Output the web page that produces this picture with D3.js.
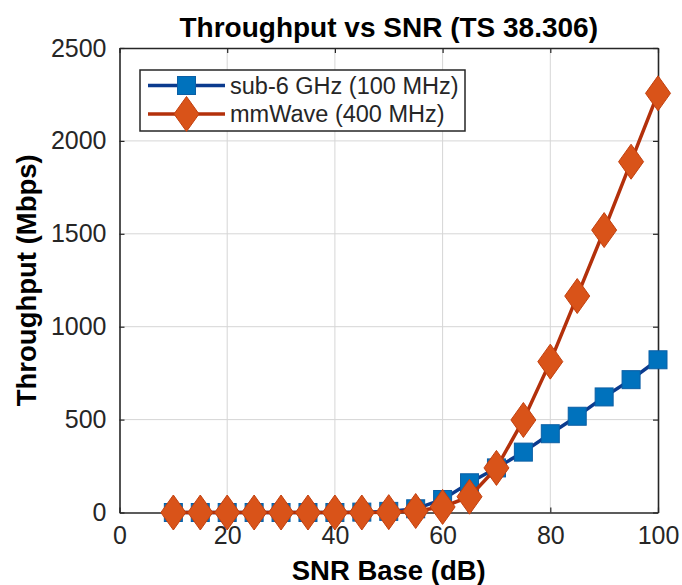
<!DOCTYPE html>
<html>
<head>
<meta charset="utf-8">
<script src="https://cdn.jsdelivr.net/npm/d3@7"></script>
<style>
  body { margin: 0; background: #fff; }
  text { font-family: "Liberation Sans", Arial, sans-serif; fill: #262626; }
</style>
</head>
<body>
<div id="chart"></div>
<script>
// data
var snr = [10, 15, 20, 25, 30, 35, 40, 45, 50, 55, 60, 65, 70, 75, 80, 85, 90, 95, 100];
var sub6 = [0, 0, 0, 0, 0, 0, 0, 2, 6, 20, 70, 160, 240, 325, 424, 518, 622, 715, 822];
var mmwave = [0, 0, 0, 0, 0, 0, 0, 0, 2, 8, 30, 85, 240, 498, 812, 1165, 1520, 1888, 2256];
var xTicks = [0, 20, 40, 60, 80, 100];
var yTicks = [0, 500, 1000, 1500, 2000, 2500];
var seriesNames = ["sub-6 GHz (100 MHz)", "mmWave (400 MHz)"];

var W = 682, H = 585;
var margin = {top: 48, right: 24, bottom: 72.5, left: 119.5};
var width = W - margin.left - margin.right,
    height = H - margin.top - margin.bottom;

var svg = d3.select("#chart").append("svg")
    .attr("width", W).attr("height", H)
    .style("background", "#fff");

var g = svg.append("g")
    .attr("transform", "translate(" + margin.left + "," + margin.top + ")");

var x = d3.scaleLinear().domain([0, 100]).range([0, width]);
var y = d3.scaleLinear().domain([0, 2500]).range([height, 0]);

// grid
g.append("g").selectAll("line").data(xTicks.slice(1, -1)).enter().append("line")
    .attr("x1", d => x(d)).attr("x2", d => x(d))
    .attr("y1", 0).attr("y2", height)
    .style("stroke", "#d6d6d6").style("stroke-width", 1);
g.append("g").selectAll("line").data(yTicks.slice(1, -1)).enter().append("line")
    .attr("x1", 0).attr("x2", width)
    .attr("y1", d => y(d)).attr("y2", d => y(d))
    .style("stroke", "#d6d6d6").style("stroke-width", 1);

// axes (box with inward ticks)
var xAxis = g.append("g")
    .attr("transform", "translate(0," + height + ")")
    .call(d3.axisBottom(x).tickValues(xTicks).tickFormat(d3.format("d"))
        .tickSizeInner(-5).tickSizeOuter(0).tickPadding(14));
var yAxis = g.append("g")
    .call(d3.axisLeft(y).tickValues(yTicks).tickFormat(d3.format("d"))
        .tickSizeInner(-5).tickSizeOuter(0).tickPadding(13));
g.append("g")
    .call(d3.axisTop(x).tickValues(xTicks).tickSizeInner(-5).tickSizeOuter(0).tickFormat(""));
g.append("g")
    .attr("transform", "translate(" + width + ",0)")
    .call(d3.axisRight(y).tickValues(yTicks).tickSizeInner(-5).tickSizeOuter(0).tickFormat(""));

g.selectAll(".domain").style("stroke", "#262626").style("stroke-width", 1.6);
g.selectAll(".tick line").style("stroke", "#262626").style("stroke-width", 1.2);
g.selectAll(".tick text").style("font-size", "25px").style("fill", "#262626");

// series
var line = d3.line()
    .x(d => x(d[0]))
    .y(d => y(d[1]));

var blueLine = "#0b3b8e", blueFill = "#0072bd", blueEdge = "#0b5fa5";
var redLine = "#b3300b", redFill = "#d95319", redEdge = "#c2400f";

var sq = 18, dw = 25, dh = 35;
var diamond = "M0," + (-dh / 2) + "L" + (dw / 2) + ",0L0," + (dh / 2) + "L" + (-dw / 2) + ",0Z";

var blueData = snr.map((s, i) => [s, sub6[i]]);
var redData = snr.map((s, i) => [s, mmwave[i]]);

g.append("path").datum(blueData)
    .attr("d", line)
    .style("fill", "none").style("stroke", blueLine).style("stroke-width", 3.5);
g.selectAll(".sq").data(blueData).enter().append("rect")
    .attr("class", "sq")
    .attr("x", d => x(d[0]) - sq / 2)
    .attr("y", d => y(d[1]) - sq / 2)
    .attr("width", sq).attr("height", sq)
    .style("fill", blueFill).style("stroke", blueEdge).style("stroke-width", 1);

g.append("path").datum(redData)
    .attr("d", line)
    .style("fill", "none").style("stroke", redLine).style("stroke-width", 3.5);
g.selectAll(".dm").data(redData).enter().append("path")
    .attr("class", "dm")
    .attr("transform", d => "translate(" + x(d[0]) + "," + y(d[1]) + ")")
    .attr("d", diamond)
    .style("fill", redFill).style("stroke", redEdge).style("stroke-width", 1);

// legend
var lg = svg.append("g").attr("transform", "translate(140,70)");
lg.append("rect")
    .attr("width", 325).attr("height", 61)
    .style("fill", "#fff").style("stroke", "#262626").style("stroke-width", 1.5);

var rows = [
    {name: seriesNames[0], y: 15.5, stroke: blueLine},
    {name: seriesNames[1], y: 44, stroke: redLine}
];
rows.forEach(function (r, i) {
    lg.append("line")
        .attr("x1", 8).attr("x2", 85)
        .attr("y1", r.y).attr("y2", r.y)
        .style("stroke", r.stroke).style("stroke-width", 3.5);
    if (i == 0) {
        lg.append("rect")
            .attr("x", 46.5 - sq / 2).attr("y", r.y - sq / 2)
            .attr("width", sq).attr("height", sq)
            .style("fill", blueFill).style("stroke", blueEdge);
    } else {
        lg.append("path")
            .attr("transform", "translate(46.5," + r.y + ")")
            .attr("d", diamond)
            .style("fill", redFill).style("stroke", redEdge);
    }
    lg.append("text")
        .attr("x", 90).attr("y", r.y)
        .attr("dy", "0.35em")
        .style("font-size", "23.5px")
        .text(r.name);
});

// title and axis labels
svg.append("text")
    .attr("x", margin.left + width / 2).attr("y", 37)
    .attr("text-anchor", "middle")
    .style("font-size", "28px").style("font-weight", "bold").style("fill", "#000")
    .text("Throughput vs SNR (TS 38.306)");

svg.append("text")
    .attr("x", margin.left + width / 2).attr("y", 580)
    .attr("text-anchor", "middle")
    .style("font-size", "27.5px").style("font-weight", "bold").style("fill", "#000")
    .text("SNR Base (dB)");

svg.append("text")
    .attr("transform", "translate(36," + (margin.top + height / 2) + ") rotate(-90)")
    .attr("text-anchor", "middle")
    .style("font-size", "27.5px").style("font-weight", "bold").style("fill", "#000")
    .text("Throughput (Mbps)");
</script>
</body>
</html>
